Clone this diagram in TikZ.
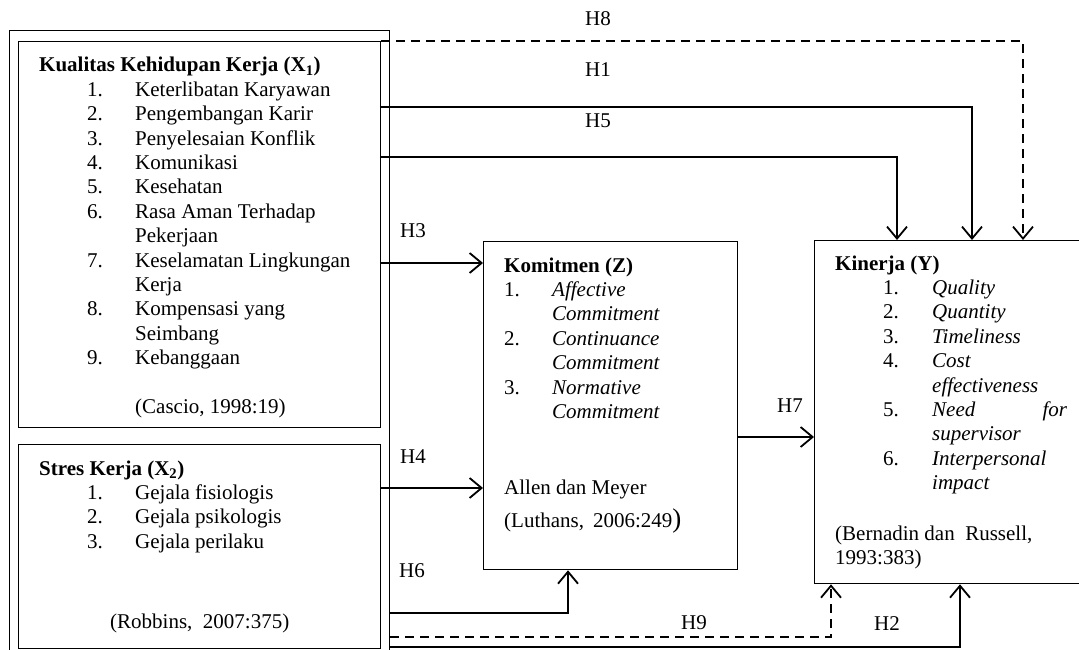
\documentclass[tikz,border=0pt]{standalone}
\usepackage{fontspec}
\setmainfont{Liberation Serif}
\usetikzlibrary{arrows.meta}
\newcommand{\itm}[2]{\makebox[48pt][l]{}\makebox[48pt][l]{#1}#2}
\newcommand{\kitm}[2]{\makebox[48pt][l]{#1}\textit{#2}}
\newcommand{\yitm}[2]{\makebox[48pt][l]{}\makebox[49pt][l]{#1}\textit{#2}}
\begin{document}
\begin{tikzpicture}[x=1pt,y=-1pt,
  box/.style={draw, line width=1.3pt, inner sep=0pt, anchor=north west},
  txt/.style={inner sep=0pt, anchor=base west, font=\fontsize{21}{24.4}\selectfont},
  lbl/.style={inner sep=0pt, anchor=base, font=\fontsize{21}{24.4}\selectfont},
  arr/.style={line width=1.8pt, -{Straight Barb[length=12pt,width=20pt,line width=1.8pt]}},
  dsh/.style={dash pattern=on 9pt off 6pt}]
\clip (0,0) rectangle (1079,650);
% boxes
\node[box, minimum width=380pt, minimum height=700pt] (outer) at (9,30) {};
\node[box, minimum width=362pt, minimum height=386pt] (x1) at (18,41) {};
\node[box, minimum width=362pt, minimum height=204pt] (x2) at (18,444) {};
\node[box, minimum width=254pt, minimum height=328pt] (kz) at (483,241) {};
\node[box, minimum width=285pt, minimum height=343pt] (ky) at (814,240) {};
% X1 text
\node[txt] (x1t) at (39,72) {\begin{tabular}[t]{@{}l@{}}
\textbf{Kualitas Kehidupan Kerja (X\textsubscript{1})}\\
\itm{1.}{Keterlibatan Karyawan}\\
\itm{2.}{Pengembangan Karir}\\
\itm{3.}{Penyelesaian Konflik}\\
\itm{4.}{Komunikasi}\\
\itm{5.}{Kesehatan}\\
\itm{6.}{Rasa Aman Terhadap}\\
\itm{}{Pekerjaan}\\
\itm{7.}{Keselamatan Lingkungan}\\
\itm{}{Kerja}\\
\itm{8.}{Kompensasi yang}\\
\itm{}{Seimbang}\\
\itm{9.}{Kebanggaan}\\
\\
\itm{}{(Cascio, 1998:19)}
\end{tabular}};
% X2 text
\node[txt] (x2t) at (39,475) {\begin{tabular}[t]{@{}l@{}}
\textbf{Stres Kerja (X\textsubscript{2})}\\
\itm{1.}{Gejala fisiologis}\\
\itm{2.}{Gejala psikologis}\\
\itm{3.}{Gejala perilaku}
\end{tabular}};
\node[txt] (x2c) at (110,628) {(Robbins,\ \ 2007:375)};
% Komitmen text
\node[txt] (kzt) at (504,272) {\begin{tabular}[t]{@{}l@{}}
\textbf{Komitmen (Z)}\\
\kitm{1.}{Affective}\\
\kitm{}{Commitment}\\
\kitm{2.}{Continuance}\\
\kitm{}{Commitment}\\
\kitm{3.}{Normative}\\
\kitm{}{Commitment}
\end{tabular}};
\node[txt] (kza) at (504,494) {Allen dan Meyer};
\node[txt] (kzc) at (504,527) {(Luthans,\hspace{9pt}2006:249{\fontsize{27}{27}\selectfont)}};
% Kinerja text
\node[txt] (kyt) at (835,270) {\begin{tabular}[t]{@{}l@{}}
\textbf{Kinerja (Y)}\\
\yitm{1.}{Quality}\\
\yitm{2.}{Quantity}\\
\yitm{3.}{Timeliness}\\
\yitm{4.}{Cost}\\
\yitm{}{effectiveness}\\
\makebox[48pt][l]{}\makebox[49pt][l]{5.}\makebox[135pt][s]{\textit{Need}\hfill\textit{for}}\\
\yitm{}{supervisor}\\
\yitm{6.}{Interpersonal}\\
\yitm{}{impact}
\end{tabular}};
\node[txt] (kyc) at (835,540) {\begin{tabular}[t]{@{}l@{}}
(Bernadin dan\ \ Russell,\\
1993:383)
\end{tabular}};
% connectors
\draw[arr,dsh] (x1.north east) -| (ky.north west -| 1023,0);
\draw[arr] (x1.east |- 0,107) -| (ky.north west -| 972,0);
\draw[arr] (x1.east |- 0,157) -| (ky.north west -| 897,0);
\draw[arr] (x1.east |- 0,263) -- (kz.west |- 0,263);
\draw[arr] (x2.east |- 0,488) -- (kz.west |- 0,488);
\draw[arr] (outer.east |- 0,613) -| (kz.south west -| 568,0);
\draw[arr,dsh] (outer.east |- 0,637) -| (ky.south west -| 831,0);
\draw[arr] (outer.east |- 0,647) -| (ky.south west -| 960,0);
\draw[arr] (kz.east |- 0,437) -- (ky.west |- 0,437);
% labels
\node[lbl] (h8) at (598,26) {H8};
\node[lbl] (h1) at (598,77) {H1};
\node[lbl] (h5) at (598,128) {H5};
\node[lbl] (h3) at (413,237) {H3};
\node[lbl] (h4) at (413,463) {H4};
\node[lbl] (h6) at (412,577) {H6};
\node[lbl] (h9) at (694,629) {H9};
\node[lbl] (h2) at (887,630) {H2};
\node[lbl] (h7) at (790,412) {H7};
\end{tikzpicture}
\end{document}
